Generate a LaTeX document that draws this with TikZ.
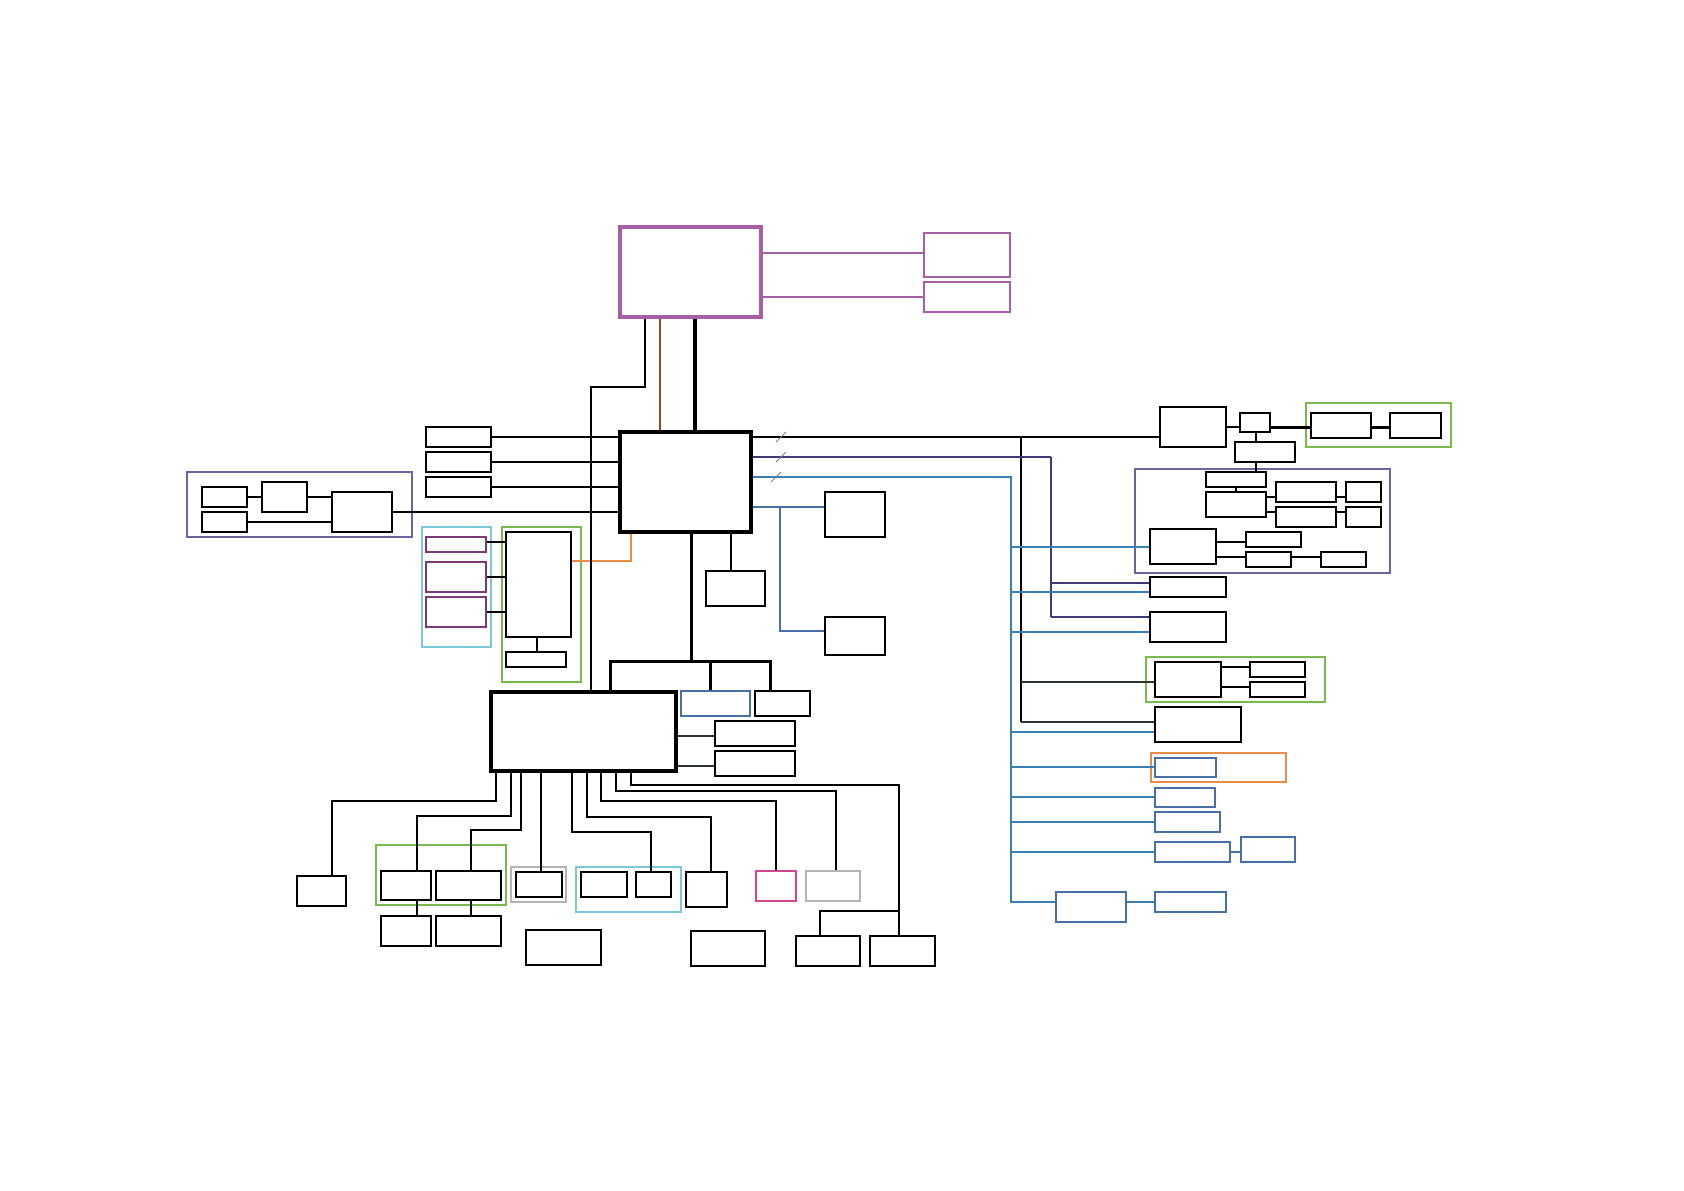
\documentclass[tikz,border=0pt]{standalone}
\usetikzlibrary{fit}

\definecolor{cpuviola}{RGB}{166,94,164}
\definecolor{bluacc}{RGB}{58,128,178}
\definecolor{blusc}{RGB}{72,112,165}
\definecolor{indaco}{RGB}{62,58,120}
\definecolor{violagr}{RGB}{106,100,160}
\definecolor{verde}{RGB}{122,184,80}
\definecolor{ciano}{RGB}{124,200,216}
\definecolor{arancio}{RGB}{232,140,70}
\definecolor{marrone}{RGB}{130,80,40}
\definecolor{rosa}{RGB}{210,70,140}
\definecolor{grigio}{RGB}{180,180,180}
\definecolor{violascuro}{RGB}{120,58,120}
\definecolor{grigioscuro}{RGB}{40,55,45}

\tikzset{
  blk/.style={draw, inner sep=0pt, line width=0.7pt},
  blkm/.style={blk, line width=1pt},
  blkb/.style={blk, line width=1.3pt},
  grp/.style={draw, inner sep=0pt, line width=0.9pt},
  filo/.style={line width=0.7pt},
  bus/.style={line width=1.3pt},
}
\newcommand{\blocco}[4][]{\node[blk,fit={#3 #4},#1] (#2) {};}

\begin{document}
\begin{tikzpicture}[x=0.5pt,y=-0.5pt]
    \useasboundingbox (0,0) rectangle (1684,1190);

    % Processore
    \blocco[cpuviola, line width=1.6pt]{cpu}{(620,227)}{(761,317)}
    \blocco[cpuviola, line width=1.1pt]{pa}{(924,233)}{(1010,277)}
    \blocco[cpuviola, line width=1.1pt]{pb}{(924,282)}{(1010,312)}
    \draw[bus, cpuviola] (cpu.east |- 0,253) -- (pa.west |- 0,253);
    \draw[filo, cpuviola] (cpu.east |- 0,297) -- (pb.west |- 0,297);

    % Nodo centrale
    \blocco[blk, line width=1.6pt]{main}{(620,432)}{(751,532)}
    \draw[line width=1.7pt] (cpu.south -| 695,0) -- (main.north -| 695,0);
    \draw[filo, marrone] (cpu.south -| 660,0) -- (main.north -| 660,0);

    % Blocchi a sinistra
    \blocco[blkb]{va}{(426,427)}{(491,447)}
    \blocco[blkb]{vb}{(426,452)}{(491,472)}
    \blocco[blkb]{vc}{(426,477)}{(491,497)}
    \draw[bus] (va.east) -- (main.west |- va.east);
    \draw[bus] (vb.east) -- (main.west |- vb.east);
    \draw[bus] (vc.east) -- (main.west |- vc.east);

    % Gruppo viola a sinistra
    \blocco[grp, violagr]{gl}{(187,472)}{(412,537)}
    \blocco[blkm]{wa}{(202,487)}{(247,507)}
    \blocco[blkm]{wb}{(202,512)}{(247,532)}
    \blocco[blkm]{wc}{(262,482)}{(307,512)}
    \blocco[blkm]{wd}{(332,492)}{(392,532)}
    \draw[filo] (wa.east |- 0,497) -- (wc.west |- 0,497);
    \draw[filo] (wc.east |- 0,497) -- (wd.west |- 0,497);
    \draw[filo] (wb.east |- 0,522) -- (wd.west |- 0,522);
    \draw[filo] (wd.east |- 0,512) -- (main.west |- 0,512);

    % Gruppo ciano e verde
    \blocco[grp, ciano]{gc}{(422,527)}{(491,647)}
    \blocco[blkm, violascuro]{xa}{(426,537)}{(486,552)}
    \blocco[blkm, violascuro]{xb}{(426,562)}{(486,592)}
    \blocco[blkm, violascuro]{xc}{(426,597)}{(486,627)}
    \blocco[grp, verde]{gv}{(502,527)}{(581,682)}
    \blocco[blkb]{ya}{(506,532)}{(571,637)}
    \blocco[blkm]{yb}{(506,652)}{(566,667)}
    \draw[bus] (xa.east |- 0,542) -- (ya.west |- 0,542);
    \draw[bus] (xb.east |- 0,577) -- (ya.west |- 0,577);
    \draw[bus] (xc.east |- 0,612) -- (ya.west |- 0,612);
    \draw[filo] (ya.south -| 537,0) -- (yb.north -| 537,0);
    \draw[filo, arancio] (ya.east |- 0,561) -- (631,561) -- (main.south -| 631,0);

    % A destra del nodo centrale
    \blocco[blkb]{ra}{(825,492)}{(885,537)}
    \blocco[blkm]{rb}{(825,617)}{(885,655)}
    \draw[bus, blusc] (main.east |- 0,507) -- (ra.west |- 0,507);
    \draw[bus, blusc] (780,507) -- (780,631) -- (rb.west |- 0,631);
    \blocco{z}{(706,571)}{(765,606)}
    \draw[filo] (main.south -| 731,0) -- (z.north -| 731,0);

    % Blocchi in alto a destra
    \blocco{k}{(1160,407)}{(1226,447)}
    \blocco{l}{(1240,413)}{(1270,432)}
    \blocco[grp, verde, line width=1.1pt]{gm}{(1306,403)}{(1451,447)}
    \blocco[blkb]{ma}{(1311,413)}{(1371,438)}
    \blocco[blkb]{mb}{(1390,413)}{(1441,438)}
    \blocco{n}{(1235,442)}{(1295,462)}
    \draw[filo] (k.east |- 0,427) -- (l.west |- 0,427);
    \draw[line width=1.5pt] (l.east |- 0,427) -- (ma.west |- 0,427);
    \draw[line width=1.5pt] (ma.east |- 0,427) -- (mb.west |- 0,427);
    \draw[filo] (l.south -| 1256,0) -- (n.north -| 1256,0);

    % Gruppo viola a destra
    \blocco[grp, violagr]{gp}{(1135,469)}{(1390,573)}
    \blocco[blkm]{pa1}{(1206,472)}{(1266,487)}
    \blocco[blkb]{pa2}{(1206,492)}{(1266,517)}
    \blocco[blkm]{qa}{(1276,482)}{(1336,502)}
    \blocco[blkm]{qb}{(1276,507)}{(1336,527)}
    \blocco[blkm]{qc}{(1346,482)}{(1381,502)}
    \blocco[blkm]{qd}{(1346,507)}{(1381,527)}
    \blocco{s}{(1150,529)}{(1216,564)}
    \blocco[blkm]{ta}{(1246,532)}{(1301,547)}
    \blocco[blkm]{tb}{(1246,552)}{(1291,567)}
    \blocco[blkm]{u}{(1321,552)}{(1366,567)}
    \draw[filo] (n.south -| 1256,0) -- (pa1.north -| 1256,0);
    \draw[filo] (pa1.south -| 1236,0) -- (pa2.north -| 1236,0);
    \draw[filo] (pa2.east |- 0,497) -- (qa.west |- 0,497);
    \draw[filo] (pa2.east |- 0,512) -- (qb.west |- 0,512);
    \draw[filo] (qa.east |- 0,497) -- (qc.west |- 0,497);
    \draw[filo] (qb.east |- 0,512) -- (qd.west |- 0,512);
    \draw[filo] (s.east |- 0,542) -- (ta.west |- 0,542);
    \draw[filo] (s.east |- 0,557) -- (tb.west |- 0,557);
    \draw[filo] (tb.east |- 0,557) -- (u.west |- 0,557);

    % Colonna a destra
    \blocco{a}{(1150,577)}{(1226,597)}
    \blocco{b}{(1150,612)}{(1226,642)}
    \blocco[grp, verde, line width=1.1pt]{gd}{(1146,657)}{(1325,702)}
    \blocco[blkb]{c}{(1155,662)}{(1221,697)}
    \blocco[blkb]{ca}{(1250,662)}{(1305,677)}
    \blocco[blkb]{cb}{(1250,682)}{(1305,697)}
    \draw[bus] (c.east |- 0,667) -- (ca.west |- 0,667);
    \draw[bus] (c.east |- 0,687) -- (cb.west |- 0,687);
    \blocco[blkb]{d}{(1155,707)}{(1241,742)}
    \blocco[grp, arancio]{go}{(1151,753)}{(1286,782)}
    \blocco[blkm, blusc]{e}{(1155,758)}{(1216,777)}
    \blocco[blusc, line width=0.9pt]{f}{(1155,788)}{(1215,807)}
    \blocco[blusc, line width=1.2pt]{g}{(1155,812)}{(1220,832)}
    \blocco[blusc, line width=1.2pt]{h}{(1155,842)}{(1230,862)}
    \blocco[blusc, line width=1pt]{hb}{(1241,837)}{(1295,862)}
    \blocco[blusc, line width=1.2pt]{i}{(1056,892)}{(1126,922)}
    \blocco[blkm, blusc]{j}{(1155,892)}{(1226,912)}
    \draw[filo, blusc] (h.east |- 0,852) -- (hb.west |- 0,852);
    \draw[filo, bluacc] (i.east |- 0,902) -- (j.west |- 0,902);

    % Linee dal nodo centrale
    \draw[filo] (main.east |- 0,437) -- (k.west |- 0,437);
    \draw[filo] (1021,437) -- (1021,722);
    \draw[line width=1.1pt, grigioscuro] (1021,682) -- (c.west |- 0,682);
    \draw[line width=1.1pt, grigioscuro] (1021,722) -- (d.west |- 0,722);
    \draw[filo, indaco] (main.east |- 0,457) -- (1051,457);
    \draw[line width=1.1pt, indaco] (1051,457) -- (1051,617);
    \draw[filo, indaco] (1051,583) -- (a.west |- 0,583);
    \draw[filo, indaco] (1051,617) -- (b.west |- 0,617);
    \draw[filo, bluacc] (main.east |- 0,477) -- (1011,477) -- (1011,902) -- (i.west |- 0,902);
    \draw[filo, bluacc] (1011,547) -- (s.west |- 0,547);
    \draw[filo, bluacc] (1011,592) -- (a.west |- 0,592);
    \draw[filo, bluacc] (1011,632) -- (b.west |- 0,632);
    \draw[line width=1.1pt, bluacc] (1011,732) -- (d.west |- 0,732);
    \draw[filo, bluacc] (1011,767) -- (e.west |- 0,767);
    \draw[filo, bluacc] (1011,797) -- (f.west |- 0,797);
    \draw[filo, bluacc] (1011,822) -- (g.west |- 0,822);
    \draw[line width=1.1pt, bluacc] (1011,852) -- (h.west |- 0,852);
    % barrette
    \draw[line width=0.5pt, gray] (776,442) -- (786,432);
    \draw[line width=0.5pt, gray] (776,462) -- (786,452);
    \draw[line width=0.5pt, gray] (771,482) -- (781,472);

    % Nodo inferiore
    \blocco[blk, line width=1.6pt]{pch}{(491,692)}{(676,771)}
    \draw[filo] (cpu.south -| 645,0) -- (645,387) -- (591,387) -- (pch.north -| 591,0);
    \blocco[blusc, line width=1.2pt]{bb}{(681,691)}{(750,716)}
    \blocco[blkb]{bc}{(755,691)}{(810,716)}
    \draw[line width=1.5pt] (main.south -| 691,0) -- (691,661);
    \draw[line width=1.5pt] (pch.north -| 610,0) -- (610,661) -- (770,661) -- (bc.north -| 770,0);
    \draw[line width=1.5pt] (710,661) -- (bb.north -| 710,0);
    \blocco{bd}{(715,721)}{(795,746)}
    \blocco[blkb]{be}{(715,751)}{(795,776)}
    \draw[filo, grigioscuro] (pch.east |- 0,736) -- (bd.west |- 0,736);
    \draw[filo, grigioscuro] (pch.east |- 0,766) -- (be.west |- 0,766);

    % Blocchi in basso
    \blocco[blkb]{aa}{(297,876)}{(346,906)}
    \blocco[grp, verde]{gb}{(376,845)}{(506,905)}
    \blocco[blkb]{ab}{(381,871)}{(431,900)}
    \blocco[blkb]{ac}{(436,871)}{(501,900)}
    \blocco{abb}{(381,916)}{(431,946)}
    \blocco{acb}{(436,916)}{(501,946)}
    \draw[bus] (pch.south -| 496,0) -- (496,801) -- (332,801) -- (aa.north -| 332,0);
    \draw[bus] (pch.south -| 511,0) -- (511,816) -- (417,816) -- (ab.north -| 417,0);
    \draw[bus] (pch.south -| 521,0) -- (521,830) -- (471,830) -- (ac.north -| 471,0);
    \draw[filo] (ab.south -| 417,0) -- (abb.north -| 417,0);
    \draw[filo] (ac.south -| 471,0) -- (acb.north -| 471,0);

    \blocco[grp, grigio]{gg}{(511,867)}{(566,902)}
    \blocco{gi}{(516,872)}{(562,897)}
    \draw[filo] (pch.south -| 541,0) -- (gi.north -| 541,0);
    \blocco[blkm]{bx}{(526,930)}{(601,965)}

    \blocco[grp, ciano]{gk}{(576,867)}{(681,912)}
    \blocco{ka}{(581,872)}{(627,897)}
    \blocco{kb}{(636,872)}{(671,897)}
    \draw[filo] (pch.south -| 572,0) -- (572,832) -- (651,832) -- (kb.north -| 651,0);

    \blocco{da}{(686,872)}{(727,907)}
    \draw[filo] (pch.south -| 587,0) -- (587,817) -- (711,817) -- (da.north -| 711,0);
    \blocco[blkb]{dx}{(691,931)}{(765,966)}

    \blocco[rosa, line width=1.2pt]{pk}{(756,871)}{(796,901)}
    \draw[bus] (pch.south -| 601,0) -- (601,801) -- (776,801) -- (pk.north -| 776,0);
    \blocco[grigio, line width=1.1pt]{gr}{(806,871)}{(860,901)}
    \draw[bus] (pch.south -| 616,0) -- (616,791) -- (836,791) -- (gr.north -| 836,0);

    \blocco[blkm]{ea}{(796,936)}{(860,966)}
    \blocco{eb}{(870,936)}{(935,966)}
    \draw[filo] (pch.south -| 631,0) -- (631,785) -- (899,785) -- (eb.north -| 899,0);
    \draw[filo] (899,911) -- (820,911) -- (ea.north -| 820,0);

\end{tikzpicture}
\end{document}
